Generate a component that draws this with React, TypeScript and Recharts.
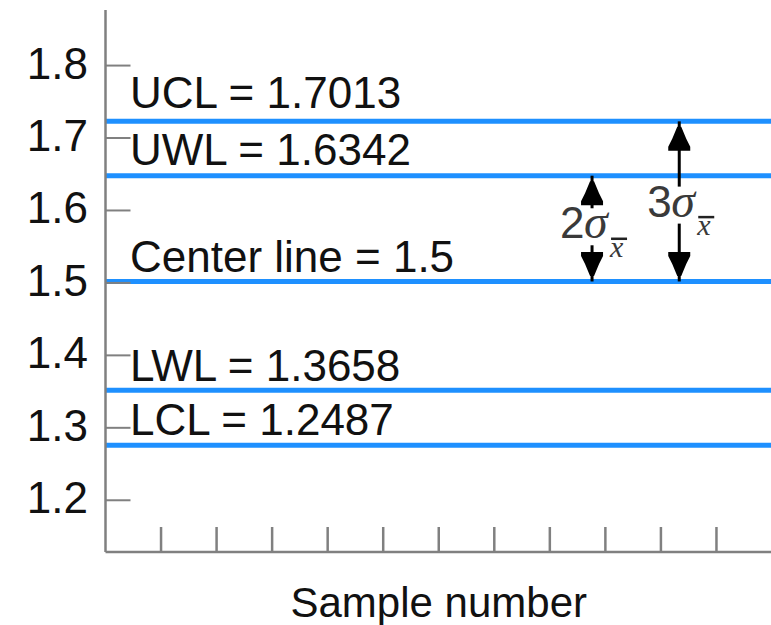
import React from 'react';
import {
  ComposedChart,
  XAxis,
  YAxis,
  ReferenceLine,
  ReferenceDot,
  Scatter,
} from 'recharts';

// ---- data ----
const xDomain = [0, 12];
const yDomain = [1.1286, 1.8767];
const xTicks = [1, 2, 3, 4, 5, 6, 7, 8, 9, 10, 11];
const yTicks = [1.2, 1.3, 1.4, 1.5, 1.6, 1.7, 1.8];

const limitNames = ['UCL', 'UWL', 'Center line', 'LWL', 'LCL'];
const limitTexts = ['1.7013', '1.6342', '1.5', '1.3658', '1.2487'];
const limitValues = [1.723, 1.648, 1.502, 1.352, 1.276];

const sigmaMultiples = ['2', '3'];
const sigmaArrowX = [8.76, 10.33];
const sigmaLimitIndex = [1, 0];
const centerIndex = 2;

// ---- styles ----
const FONT = '"Liberation Sans", Arial, sans-serif';
const SERIF = '"Liberation Serif", "Times New Roman", serif';
const LINE_BLUE = '#1e90ff';
const AXIS_GRAY = '#808080';
const TEXT = '#111';
const SIGMA_TEXT = '#3a3a3a';
const labelLift = [13, 10.5, 9.5, 9, 10];
const sigmaBaselineShift = [9.7, 15.2];

const arrowHeads = sigmaArrowX.flatMap((x, i) => [
  { x, y: limitValues[sigmaLimitIndex[i]], dir: 'up' },
  { x, y: limitValues[centerIndex], dir: 'down' },
]);

const ArrowHead = (props: any) => {
  const { cx, cy, payload } = props;
  if (cx == null || cy == null) return null;
  const up = payload.dir === 'up';
  const s = up ? 1 : -1;
  const tipY = cy + s * 5.5;
  const pts = [
    [-2, 0],
    [2, 0],
    [7, 12],
    [11, 20],
    [11, 24],
    [-11, 24],
    [-11, 20],
    [-7, 12],
  ]
    .map(([dx, dy]) => `${cx + dx},${tipY + s * dy}`)
    .join(' ');
  return <polygon points={pts} fill="#000" />;
};

const makeSigmaLabel = (i: number) => (props: any) => {
  const { cx, cy } = props;
  if (cx == null || cy == null) return null;
  const base = cy + sigmaBaselineShift[i];
  return (
    <g>
      <rect x={cx - 6} y={base - 30} width={12} height={37} fill="#fff" />
      <text x={cx - 32} y={base} fontSize={44} fill={SIGMA_TEXT} fontFamily={FONT}>
        {sigmaMultiples[i]}
      </text>
      <text x={cx - 8} y={base} fontSize={48} fill={SIGMA_TEXT} fontFamily={SERIF} fontStyle="italic">
        σ
      </text>
      <line x1={cx + 19} x2={cx + 35} y1={base + 0.5} y2={base + 0.5} stroke="#222" strokeWidth={2.5} />
      <text x={cx + 18} y={base + 18.5} fontSize={30} fill={SIGMA_TEXT} fontFamily={SERIF} fontStyle="italic">
        x
      </text>
    </g>
  );
};

const YTick = (props: any) => {
  const { x, y, payload } = props;
  return (
    <text x={x} y={y} dy={13} textAnchor="end" fontSize={44} fill={TEXT} fontFamily={FONT}>
      {Number(payload.value).toFixed(1)}
    </text>
  );
};

const makeLimitLabel = (i: number) => (props: any) => {
  const vb = props.viewBox || {};
  return (
    <text x={(vb.x ?? 105.5) + 24.5} y={(vb.y ?? 0) - labelLift[i]} fontSize={44} fill={TEXT} fontFamily={FONT}>
      {`${limitNames[i]} = ${limitTexts[i]}`}
    </text>
  );
};

export default function App() {
  return (
    <div style={{ position: 'absolute', left: 0, top: 0, width: 771, height: 625, overflow: 'hidden', background: '#fff' }}>
      <ComposedChart
        width={800}
        height={625}
        margin={{ top: 10, right: 28, bottom: 0, left: 0.5 }}
        style={{ fontFamily: FONT }}
      >
        <XAxis
          xAxisId="top"
          orientation="top"
          type="number"
          domain={xDomain}
          height={0}
          tick={false}
          tickLine={false}
          axisLine={{ stroke: AXIS_GRAY, strokeWidth: 2.5 }}
        />
        <XAxis
          dataKey="x"
          type="number"
          domain={xDomain}
          ticks={xTicks}
          height={73}
          tickSize={-25}
          tickFormatter={() => ''}
          axisLine={{ stroke: AXIS_GRAY, strokeWidth: 2.5 }}
          tickLine={{ stroke: AXIS_GRAY, strokeWidth: 2.5 }}
          label={{ value: 'Sample number', position: 'insideBottom', offset: 8, fontSize: 42, fill: TEXT }}
        />
        <YAxis
          dataKey="y"
          type="number"
          domain={yDomain}
          ticks={yTicks}
          width={105}
          tickSize={-25}
          tickMargin={42.5}
          tick={<YTick />}
          axisLine={{ stroke: AXIS_GRAY, strokeWidth: 2.5 }}
          tickLine={{ stroke: AXIS_GRAY, strokeWidth: 2 }}
        />
        {limitValues.map((v, i) => (
          <ReferenceLine key={limitNames[i]} y={v} stroke={LINE_BLUE} strokeWidth={5} label={makeLimitLabel(i)} />
        ))}
        {sigmaArrowX.map((x, i) => (
          <ReferenceLine
            key={`shaft-${i}`}
            segment={[
              { x, y: limitValues[centerIndex] },
              { x, y: limitValues[sigmaLimitIndex[i]] },
            ]}
            stroke="#000"
            strokeWidth={3}
          />
        ))}
        {sigmaArrowX.map((x, i) => (
          <ReferenceDot
            key={`sig-${i}`}
            x={x}
            y={(limitValues[centerIndex] + limitValues[sigmaLimitIndex[i]]) / 2}
            r={0}
            shape={makeSigmaLabel(i)}
          />
        ))}
        <Scatter data={arrowHeads} dataKey="y" shape={<ArrowHead />} isAnimationActive={false} />
      </ComposedChart>
    </div>
  );
}
